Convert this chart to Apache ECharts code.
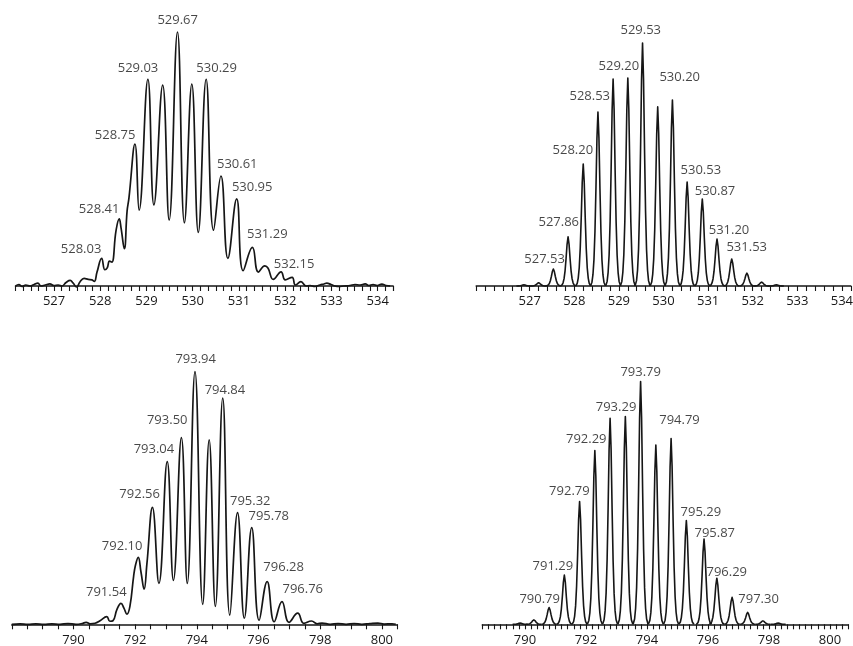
<!DOCTYPE html>
<html>
<head>
<meta charset="utf-8">
<title>Isotope patterns</title>
<script src="https://cdn.jsdelivr.net/npm/echarts@6/dist/echarts.min.js"></script>
<style>
  html, body { margin: 0; padding: 0; background: #ffffff; }
  #chart { width: 853px; height: 646px; }
</style>
</head>
<body>
<div id="chart"></div>
<script>
// ---------- data ----------
// Measured profile, charge 3+ (m/z, relative intensity %)
const mzTL = [526.17, 526.24, 526.31, 526.39, 526.48, 526.57, 526.65, 526.72, 526.81, 526.91,
  527.00, 527.09, 527.17, 527.26, 527.35, 527.41, 527.49, 527.56, 527.65, 527.74,
  527.82, 527.87, 527.93, 528.03, 528.10, 528.15, 528.20, 528.25, 528.34, 528.41,
  528.45, 528.52, 528.58, 528.62, 528.75, 528.84, 529.03, 529.16, 529.35, 529.49,
  529.67, 529.82, 529.98, 530.12, 530.29, 530.45, 530.61, 530.76, 530.95, 531.09,
  531.29, 531.42, 531.56, 531.63, 531.74, 531.91, 532.00, 532.15, 532.22, 532.34,
  532.45, 532.54, 532.64, 532.75, 532.84, 532.90, 532.99, 533.08, 533.16, 533.27,
  533.40, 533.51, 533.62, 533.73, 533.81, 533.90, 533.99, 534.09, 534.18, 534.27];
const intTL = [0, 0.6, -0.2, 0.4, 0, 0.6, 1.1, 0, 0.4, 0.8,
  0.2, 0.4, 0, 1.4, 2.2, 1.2, -0.4, 1.6, 3.0, 2.6,
  2.4, 1.8, 5.5, 10.9, 6.4, 7.1, 9.8, 9.4, 21.7, 26.4,
  22.8, 14.7, 29.5, 34.6, 55.9, 29.9, 81.4, 31.9, 79.1, 26.0,
  100, 24.9, 79.5, 21.1, 81.4, 22.0, 43.3, 10.9, 34.3, 6.0,
  15.2, 5.5, 7.9, 7.0, 2.6, 5.6, 2.4, 3.4, 0.4, 1.7,
  0, 0.2, -0.2, 0.4, 0.8, 1.1, 0.6, 0, -0.2, 0,
  0.2, 0.6, 0.4, 0.8, 0.2, 0.6, 0.2, 0.7, 0.2, 0];
const labelsTL = [528.03, 528.41, 528.75, 529.03, 529.67, 530.29, 530.61, 530.95, 531.29, 532.15];
const ticksTL = [527, 528, 529, 530, 531, 532, 533, 534];

// Calculated pattern, charge 3+ (peak m/z, relative intensity %)
const mzTR = [526.87, 527.20, 527.53, 527.86, 528.20, 528.53, 528.87, 529.20, 529.53,
  529.87, 530.20, 530.53, 530.87, 531.20, 531.53, 531.87, 532.20, 532.53];
const intTR = [0.5, 1.3, 7.0, 20.2, 50.2, 71.6, 85.2, 85.6, 100,
  73.7, 76.5, 42.8, 35.8, 19.3, 11.1, 5.3, 1.6, 0.5];
const labelsTR = [527.53, 527.86, 528.20, 528.53, 529.20, 529.53, 530.20, 530.53, 530.87, 531.20, 531.53];
const ticksTR = [527, 528, 529, 530, 531, 532, 533, 534];

// Measured profile, charge 2+
const mzBL = [788.00, 788.27, 788.52, 788.78, 789.04, 789.30, 789.56, 789.82, 790.08, 790.28,
  790.41, 790.54, 790.70, 790.86, 791.08, 791.18, 791.28, 791.41, 791.54, 791.64,
  791.73, 791.83, 791.95, 792.01, 792.10, 792.19, 792.29, 792.38, 792.56, 792.77,
  793.04, 793.24, 793.50, 793.69, 793.94, 794.19, 794.40, 794.60, 794.84, 795.07,
  795.32, 795.54, 795.78, 796.02, 796.28, 796.51, 796.76, 796.99, 797.27, 797.47,
  797.72, 797.90, 798.06, 798.32, 798.58, 798.84, 799.10, 799.35, 799.61, 799.87,
  800.07, 800.33, 800.45];
const intBL = [0, 0.2, 0, 0.2, 0, 0.2, 0, 0.3, 0, 0.3,
  0.8, 0.2, 0.4, 1.4, 3.0, 1.2, 1.4, 5.9, 8.3, 6.3,
  4.0, 7.1, 19.0, 23.4, 26.5, 20.6, 13.9, 23.8, 46.3, 16.2,
  64.4, 17.4, 73.9, 16.2, 100, 7.9, 73.0, 7.1, 89.5, 3.6,
  44.2, 2.4, 38.3, 1.6, 16.9, 1.0, 9.0, 0.8, 4.4, 0.4,
  1.3, 0.2, 0.5, 0, 0.3, 0, 0.3, 0, 0.3, 0.5,
  0.1, 0.2, 0];
const labelsBL = [791.54, 792.10, 792.56, 793.04, 793.50, 793.94, 794.84, 795.32, 795.78, 796.28, 796.76];
const ticksBL = [790, 792, 794, 796, 798, 800];

// Calculated pattern, charge 2+
const mzBR = [789.84, 790.29, 790.79, 791.29, 791.79, 792.29, 792.79, 793.29, 793.79,
  794.29, 794.79, 795.29, 795.87, 796.29, 796.79, 797.30, 797.80, 798.30];
const intBR = [0.5, 1.8, 6.9, 20.3, 50.6, 71.6, 84.9, 85.6, 100,
  73.9, 76.5, 42.7, 35.1, 19.0, 11.1, 4.9, 1.4, 0.5];
const labelsBR = [790.79, 791.29, 792.79, 792.29, 793.29, 793.79, 794.79, 795.29, 795.87, 796.29, 797.30];
const ticksBR = [790, 792, 794, 796, 798, 800];

// ---------- styling ----------
const INK = '#161616';
const TEXT = '#181818';
const FONT = '"Open Sans", "Noto Sans", sans-serif';
const FONT_SIZE = 13;

// Label placement (pixel offset of the text centre from the labelled peak top)
const labelOffsetTL = [[-20.6, -9], [-20.1, -9.7], [-19.8, -9], [-9.9, -11], [0.2, -11.6],
  [10.5, -11], [16.3, -11.7], [15.5, -11.7], [14.9, -13.3], [1.9, -13]];
const labelOffsetTR = [[-8.8, -9.7], [-9.3, -14.2], [-10.4, -13.3], [-8.2, -15.3], [-9, -11.3],
  [-1.8, -13], [7.3, -22.4], [13.7, -11.3], [12.7, -7.3], [12, -9.1], [15, -11.3]];
const labelOffsetBL = [[-14.7, -11], [-16.1, -11.4], [-12.8, -13], [-13.3, -12.3], [-14.2, -17.6],
  [0.7, -12.4], [2.2, -7.5], [12.7, -11], [17, -10.9], [16.5, -14.3], [20.8, -12.3]];
const labelOffsetBR = [[-9.4, -8.3], [-11.5, -8.3], [-40.7, 73.5], [-8.6, -11.5], [-9.3, -9.2],
  [0.1, -8.9], [8.4, -17.9], [14.5, -8], [10.7, -5.8], [9.9, -5.9], [10.9, -13.1]];

// Outline of one calculated peak: [pixel distance from centre, fraction of peak height]
const PEAK_PROFILE = [[0, 1], [1, 0.85], [2, 0.56], [3, 0.31], [4, 0.15],
  [5, 0.065], [6, 0.022], [7.5, 0]];

// Panel layout (pixels)
const grids = [
  { left: 15.5, right: 459.9, top: 32, bottom: 360 },
  { left: 476.2, right: 2.2, top: 43, bottom: 360 },
  { left: 11.8, right: 455.7, top: 371.7, bottom: 21.7 },
  { left: 482.3, right: 4.7, top: 381.6, bottom: 21.7 }
];
// Axis extents and tick spacing for each panel
const axisSpecs = [
  { min: 3157 / 6, max: 3206 / 6, interval: 1 / 6, labels: ticksTL },
  { min: 525.8, max: 534.2, interval: 0.2, labels: ticksTR },
  { min: 788, max: 800.5, interval: 0.5, labels: ticksBL },
  { min: 788.6, max: 800.6, interval: 0.2, labels: ticksBR }
];

// ---------- chart ----------
function pairs(xs, ys) { return xs.map((x, i) => [x, ys[i]]); }

function makeXAxis(spec, idx) {
  return {
    type: 'value', gridIndex: idx,
    min: spec.min, max: spec.max, interval: spec.interval,
    axisLine: { show: true, onZero: false, lineStyle: { color: INK, width: 1.5 } },
    axisTick: { show: true, length: 5, inside: false, lineStyle: { color: INK, width: 1.1 } },
    splitLine: { show: false },
    axisLabel: {
      show: true, margin: 9, color: TEXT, fontFamily: FONT, fontSize: FONT_SIZE,
      formatter: function (v) {
        const r = Math.round(v);
        return (Math.abs(v - r) < 1e-6 && spec.labels.indexOf(r) >= 0) ? String(r) : '';
      }
    }
  };
}

function makeYAxis(idx) {
  return { type: 'value', gridIndex: idx, min: 0, max: 100, show: false };
}

function measuredSeries(idx, xs, ys) {
  return {
    type: 'line', xAxisIndex: idx, yAxisIndex: idx,
    data: pairs(xs, ys), showSymbol: false, smooth: 0.45, clip: false,
    lineStyle: { color: INK, width: 1.7 }, silent: true, z: 3
  };
}

function calculatedSeries(idx, xs, ys) {
  return {
    type: 'custom', xAxisIndex: idx, yAxisIndex: idx,
    data: pairs(xs, ys), silent: true, z: 3,
    renderItem: function (params, api) {
      const mz = api.value(0), inten = api.value(1);
      const base = api.coord([mz, 0]);
      const top = api.coord([mz, inten]);
      const h = base[1] - top[1];
      const pts = [];
      for (let i = PEAK_PROFILE.length - 1; i >= 0; i--) {
        pts.push([base[0] - PEAK_PROFILE[i][0], base[1] - h * PEAK_PROFILE[i][1]]);
      }
      for (let i = 1; i < PEAK_PROFILE.length; i++) {
        pts.push([base[0] + PEAK_PROFILE[i][0], base[1] - h * PEAK_PROFILE[i][1]]);
      }
      return {
        type: 'polyline',
        shape: { points: pts },
        style: { stroke: INK, lineWidth: 1.6, fill: null, lineJoin: 'round' }
      };
    }
  };
}

function labelSeries(idx, labelMz, xs, ys, offsets) {
  const data = labelMz.map((m, i) => {
    let k = 0, best = Infinity;
    xs.forEach((x, j) => { const d = Math.abs(x - m); if (d < best) { best = d; k = j; } });
    return { value: [m, ys[k]], label: { offset: offsets[i] } };
  });
  return {
    type: 'scatter', xAxisIndex: idx, yAxisIndex: idx,
    data: data, symbolSize: 1, silent: true, z: 5,
    itemStyle: { color: 'rgba(0,0,0,0)' },
    label: {
      show: true, position: 'inside', align: 'center', verticalAlign: 'middle',
      color: TEXT, fontFamily: FONT, fontSize: FONT_SIZE,
      formatter: p => p.value[0].toFixed(2)
    }
  };
}

const chart = echarts.init(document.getElementById('chart'), null, { renderer: 'canvas' });
chart.setOption({
  backgroundColor: '#ffffff',
  animation: false,
  grid: grids.map(g => Object.assign({ containLabel: false, outerBoundsMode: 'none' }, g)),
  xAxis: axisSpecs.map(makeXAxis),
  yAxis: [0, 1, 2, 3].map(makeYAxis),
  series: [
    measuredSeries(0, mzTL, intTL),
    calculatedSeries(1, mzTR, intTR),
    measuredSeries(2, mzBL, intBL),
    calculatedSeries(3, mzBR, intBR),
    labelSeries(0, labelsTL, mzTL, intTL, labelOffsetTL),
    labelSeries(1, labelsTR, mzTR, intTR, labelOffsetTR),
    labelSeries(2, labelsBL, mzBL, intBL, labelOffsetBL),
    labelSeries(3, labelsBR, mzBR, intBR, labelOffsetBR)
  ]
});
</script>
</body>
</html>
